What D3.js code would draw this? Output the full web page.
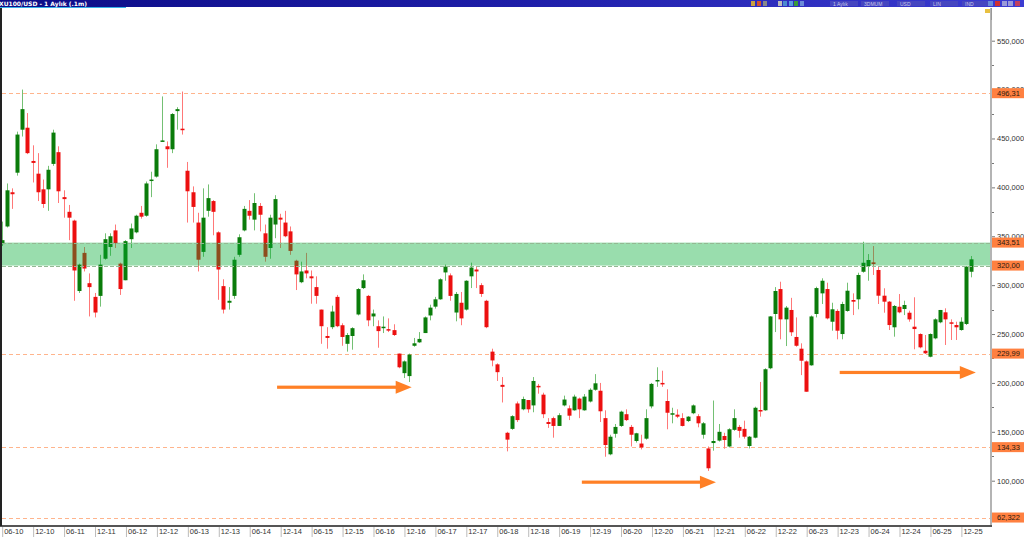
<!DOCTYPE html>
<html><head><meta charset="utf-8">
<script src="https://cdn.jsdelivr.net/npm/d3@7"></script>
<style>html,body{margin:0;padding:0;background:#fff;overflow:hidden}svg{display:block}</style>
</head><body>
<svg id="c" width="1024" height="538"></svg>
<script>
// ---- data (monthly candles, index 0 = Jun 2010) ----
const tickLabels = ["06-10","12-10","06-11","12-11","06-12","12-12","06-13","12-13","06-14","12-14","06-15","12-15","06-16","12-16","06-17","12-17","06-18","12-18","06-19","12-19","06-20","12-20","06-21","12-21","06-22","12-22","06-23","12-23","06-24","12-24","06-25","12-25"];
const tickIndex = [0,6,12,18,24,30,36,42,48,54,60,66,72,78,84,90,96,102,108,114,120,126,132,138,144,150,156,162,168,174,180,186];

const open = [342,360,395,415,459,461,427,414,398,398,424,436,390,375,366,294,333,302,288,289,
327,339,356,322,305,347,354,374,371,407,411,447,442,439,478,460,417,395,364,334,
376,386,354,299,282,289,331,356,376,367,381,353,338,362,369,364,355,325,303,315,
309,298,275,248,257,288,259,240,248,270,297,289,268,258,257,255,254,230,210,207,
238,241.5,251,269,278,285.5,313,310,272,282,275,309,316,300,284,232,219,198,149,153,
179,173,182.5,177,197,188,160,164,156,177,174,172,184,172,181,193,192,164,127,148,
156,168,155,140.6,138,143,176,202,200,181.5,168,167.5,164,161,169,166,147,133,138.5,141,
145.7,135,152,155,153,135.5,144,172.3,172,215,270.5,296,265,274.6,247,235,222,218,270.5,291.6,
296,262.6,273.6,250,273.6,284.8,285.5,313.7,319.6,323.3,315.5,289.2,283.1,256.9,277.9,275.6,271.8,257.5,250,232.9,
226.8,245.6,262,272.2,262,259.2,254.1,260.3,313.7];
const high = [365,404,399,457,500,476,443,435,408,422,459,442,397,382,367,322,339,312,292,331,
353,353,362,323,346,363,372,381,406,416,444,493,447,476,482,498,426,401,374,399,
403,387,355,306,298,329,352,381,387,394,384,362,372,392,373,376,360,326,324,333,
315,309,275,257,279,290,261,251,257,297,311,290,275,264,268,266,260,230,223,230,
246,252,268,280,288,307,321,312,293,293,305,323,319,302,285,235,220,206,150,167,
181,186,182.5,206,199,190,164,165.5,169,187,177,188,185,188.6,194.5,209,200,172,147,158,
171.6,173,157,149,147,173,200,216,212.5,193.5,174.6,173,169,166,178,168,160,135,182,158,
149,153.7,173,157,161.4,145.7,175.7,201,215,268.4,298,303.5,278.7,287,267,240.5,223,269,298.4,307,
302.5,282,275.3,283,302.5,291.6,312.7,344.4,331.8,340,318.9,296.8,283.8,279.7,290.9,284.1,273.9,287.6,250.7,249,
250.7,266.1,274.6,276.3,265,262.6,267.1,319.6,329.8];
const low = [340,359,378,412,452,434,405,386,379,376,422,384,369,346,284,292,314,268,267,278,
326,330,338,290,305,338,353,368,370,390,410,447,420,435,459,454,364,364,314,329,
370,351,285,271,275,286,329,355,367,356,355,324,327,348,338,349,331,295,302,307,
281,281,240,235,255,257,238,232,234,269,296,258,258,236,251,252,248,215,205,201,
237,241,251,264,276,285,304.5,284,263,259,274,297,297,288,256,217,202,180,130,152,
160,172,169.5,170,189,164,154,144,156,176,162,171.6,164,171.6,180,192,160,124.5,126,144,
155,161,135,139,132,142,174,196,196,152.6,158.7,164,155.5,160,168,154.6,143,110,130.7,140,
132.7,134,151,144,143,133,143.3,165.5,171.6,214,252,244.6,237.7,248,237,208,191,217.6,267,280.7,
265,253.4,244.6,244.6,272.8,269.4,275.3,312.7,304.5,310.4,280.7,271.8,254.1,247.3,271.2,269.4,262.6,234.4,235.4,229.6,
226.2,244.6,261,238.8,243.9,243.9,253.4,259.2,308];
const close = [346,397,393,454,480,435,425,395,383,418,456,396,388,369,315,321,317,298,272,321,
347,350,343,296,345,358,371,370,404,408,439,448,439,475,480,459,396,380,326,369,
389,375,316,275,284,326,349,378,371,384,372,329,369,388,367,350,335,311,314,312,
307,289,258,246,273,258,247,249,256,296,305,264,271,253,257.5,254,249,216,222,229,
240.5,245,267,277,285.5,306,319,289,291,266,304.5,318,314,291,257,223,211,196,142,166,
162,183.5,173,202,195.5,168,158,156,167,183,166.5,186,173,186,193,199.6,171,136.5,145,155,
170.6,162,147,148.5,134,164,199,203,198.6,169.5,169,165.5,156,165.5,177,158.7,158.7,112.7,140.6,150,
141.6,152.6,164,151,145,145,174.6,171.3,214,268,294,265,277,251.8,238,222.7,191,268,297,304.5,
266,275.3,253.4,280.7,294.3,283.1,310.4,322.9,325.7,321.6,289.2,283.1,259.2,278.7,272.2,279.7,265,255.1,236.4,230.3,
250,265,274.6,265,261,256.9,262.6,318.9,326.4];

const levels = [496.31, 229.99, 134.33, 62.322];
const levelLabels = ["496,31","229,99","134,33","62,322"];
const band = [320.00, 343.51];
const bandLabels = ["320,00","343,51"];
const axisTicks = [100,150,200,250,300,350,400,450,500,550];
const axisLabels = ["100,0000","150,0000","200,0000","250,0000","300,0000","350,0000","400,0000","450,0000","500,0000","550,0000"];
const minorTicks = [125,175,225,275,325,375,425,475,525];
// arrows: start index, end index, level
const arrowFrom = [53.4, 112.5, 162.5];
const arrowTo = [79.5, 138.5, 188.9];
const arrowLevel = [195.6, 98.5, 210.7];

// ---- layout ----
const svg = d3.select("#c");
const W = 1024, H = 538;
const plotL = 2, plotR = 991, plotT = 8, plotB = 526;
const x = d3.scaleLinear().domain([0, 188]).range([1.7, 971.2]);
const y = d3.scaleLinear().domain([100, 550]).range([480.7, 40.7]);
const FONT = "'Liberation Sans', Arial, sans-serif";

svg.append("rect").attr("width", W).attr("height", H).attr("fill", "#fff");

const defs = svg.append("defs");
defs.append("clipPath").attr("id", "plot").append("rect")
  .attr("x", plotL).attr("y", plotT).attr("width", plotR - plotL).attr("height", plotB - plotT);
const g1 = defs.append("linearGradient").attr("id", "tb");
g1.append("stop").attr("offset", "0").attr("stop-color", "#0c0c86");
g1.append("stop").attr("offset", "0.5").attr("stop-color", "#1e1ea8");
g1.append("stop").attr("offset", "1").attr("stop-color", "#3c3cd2");

// level dashed lines
const plot = svg.append("g").attr("clip-path", "url(#plot)");
plot.selectAll("line.lvl").data(levels).join("line").attr("class", "lvl")
  .attr("x1", plotL).attr("x2", plotR)
  .attr("y1", d => Math.round(y(d)) + 0.5).attr("y2", d => Math.round(y(d)) + 0.5)
  .attr("stroke", "#ffb48c").attr("stroke-width", 1).attr("stroke-dasharray", "4,3");

// candles
const idx = d3.range(open.length);
const cg = plot.append("g");
cg.selectAll("line.wick").data(idx).join("line").attr("class", "wick")
  .attr("x1", i => Math.round(x(i)) + 0.5).attr("x2", i => Math.round(x(i)) + 0.5)
  .attr("y1", i => y(high[i])).attr("y2", i => y(low[i]))
  .attr("stroke", i => close[i] >= open[i] ? "#74c074" : "#ff7878").attr("stroke-width", 1);
cg.selectAll("rect.body").data(idx).join("rect").attr("class", "body")
  .attr("x", i => Math.round(x(i)) - 1.5)
  .attr("width", 4)
  .attr("y", i => Math.min(y(open[i]), y(close[i])))
  .attr("height", i => Math.max(1.5, Math.abs(y(open[i]) - y(close[i]))))
  .attr("fill", i => close[i] >= open[i] ? "#0a7c0a" : "#ec1010");

// band (drawn on top, semi-transparent)
plot.append("rect")
  .attr("x", plotL).attr("width", plotR - plotL)
  .attr("y", y(band[1])).attr("height", y(band[0]) - y(band[1]))
  .attr("fill", "rgb(0,170,50)").attr("fill-opacity", 0.4);
plot.selectAll("line.bd").data(band).join("line").attr("class", "bd")
  .attr("x1", plotL).attr("x2", plotR)
  .attr("y1", d => Math.round(y(d)) + 0.5).attr("y2", d => Math.round(y(d)) + 0.5)
  .attr("stroke", "#93b993").attr("stroke-width", 1).attr("stroke-dasharray", "4,2");

// arrows
const ag = svg.append("g").attr("fill", "#ff8026");
idx.slice(0, arrowFrom.length).forEach(k => {
  const x0 = x(arrowFrom[k]), x1 = x(arrowTo[k]), yy = y(arrowLevel[k]);
  ag.append("rect").attr("x", x0).attr("y", yy - 1.6).attr("width", x1 - x0 - 14).attr("height", 3.2);
  ag.append("path").attr("d", `M${x1 - 16},${yy - 6.5}L${x1},${yy}L${x1 - 16},${yy + 6.5}Z`);
});

// right axis
const ra = svg.append("g").attr("transform", `translate(${plotR},0)`)
  .call(d3.axisRight(y).tickValues(axisTicks).tickSize(4).tickPadding(2)
    .tickFormat((d, i) => axisLabels[i]));
ra.select(".domain").remove();
ra.selectAll(".tick line").attr("stroke", "#777");
ra.selectAll(".tick text").attr("font-family", FONT).attr("font-size", 7.5).attr("fill", "#333");
svg.append("g").selectAll("line").data(minorTicks).join("line")
  .attr("x1", plotR).attr("x2", plotR + 3)
  .attr("y1", d => Math.round(y(d)) + 0.5).attr("y2", d => Math.round(y(d)) + 0.5)
  .attr("stroke", "#777");
svg.append("rect").attr("x", plotR - 1).attr("y", plotT).attr("width", 2).attr("height", plotB - plotT + 1).attr("fill", "#b4b4b4");

// price label boxes
const allLv = levels.concat(band), allLb = levelLabels.concat(bandLabels);
const lb = svg.append("g");
allLv.forEach((v, k) => {
  lb.append("rect").attr("x", plotR + 1).attr("y", y(v) - 5).attr("width", W - plotR).attr("height", 10).attr("fill", "#ff8040");
  lb.append("text").attr("x", plotR + 6).attr("y", y(v) + 2.7).attr("font-family", FONT).attr("font-size", 7.5)
    .attr("fill", "#2a1a10").text(allLb[k]);
});

// bottom axis
const ba = svg.append("g").attr("transform", `translate(0,${plotB})`)
  .call(d3.axisBottom(x).tickValues(tickIndex).tickSize(10).tickPadding(0)
    .tickFormat((d, i) => tickLabels[i]));
ba.select(".domain").remove();
ba.selectAll(".tick line").attr("stroke", "#bbb").attr("transform", "translate(0.5,1)");
ba.selectAll(".tick text").attr("font-family", FONT).attr("font-size", 7.5).attr("fill", "#333")
  .attr("text-anchor", "start").attr("dx", 2).attr("dy", 0).attr("y", 8);
svg.append("rect").attr("x", 0).attr("y", plotB - 1).attr("width", plotR + 1).attr("height", 2).attr("fill", "#555");

// left border
svg.append("rect").attr("x", 0).attr("y", plotT).attr("width", 2).attr("height", plotB - plotT).attr("fill", "#222");

// title bar
svg.append("rect").attr("x", 0).attr("y", 0).attr("width", W).attr("height", 7).attr("fill", "url(#tb)");
svg.append("rect").attr("x", 0).attr("y", 7).attr("width", 126).attr("height", 1).attr("fill", "#38b0e8");
svg.append("text").attr("x", -1).attr("y", 5.8).attr("font-family", "'DejaVu Sans', Verdana, sans-serif")
  .attr("font-size", 6).attr("font-weight", "bold").attr("fill", "#fff").text("XU100/USD - 1 Aylık (.1m)");
const tbar = svg.append("g");
[751, 757, 763, 778, 783, 789, 794, 800].forEach((xx, k) => {
  tbar.append("rect").attr("x", xx).attr("y", 1).attr("width", 4).attr("height", 5)
    .attr("fill", ["#c8a040", "#d05030", "#888", "#bbb", "#4a8ad0", "#5a9ae0", "#3a9a3a", "#6a8ad8"][k]);
});
[["1 Aylık", 833], ["3DMUM", 864], ["USD", 900], ["LIN", 933], ["IND", 965]].forEach(([t, xx]) => {
  tbar.append("rect").attr("x", xx - 3).attr("y", 1).attr("width", 28).attr("height", 5).attr("fill", "#4646c0");
  tbar.append("text").attr("x", xx).attr("y", 5.5).attr("font-family", FONT).attr("font-size", 5)
    .attr("fill", "#c8c8e8").text(t);
});
[[988, "#6a8ad8"], [995, "#d03030"], [1002, "#9a9ad8"], [1008, "#9a9ad8"], [1015, "#c04060"]].forEach(([xx, c]) => {
  tbar.append("rect").attr("x", xx).attr("y", 1).attr("width", 5).attr("height", 5).attr("fill", c);
});
svg.append("rect").attr("x", 985).attr("y", 9).attr("width", 5).attr("height", 4).attr("fill", "#e8c040");
svg.append("line").attr("x1", 991.5).attr("x2", 991.5).attr("y1", 8).attr("y2", 20).attr("stroke", "#999");
</script>
</body></html>
